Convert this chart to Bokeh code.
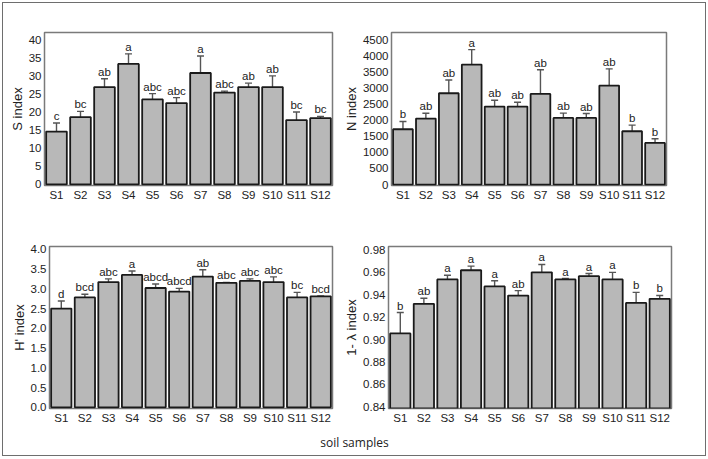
from bokeh.plotting import figure
from bokeh.models import (ColumnDataSource, Range1d, FactorRange, FixedTicker,
                          Whisker, TeeHead, Label, CustomJSTickFormatter)
from bokeh.layouts import column, row
from bokeh.core.properties import value
from bokeh.embed import file_html
from bokeh.resources import INLINE

samples = ["S1", "S2", "S3", "S4", "S5", "S6", "S7", "S8", "S9", "S10", "S11", "S12"]

s_mean = [14.6, 18.6, 26.9, 33.3, 23.5, 22.5, 30.8, 25.4, 26.9, 26.9, 17.8, 18.3]
s_err = [2.4, 1.6, 2.3, 2.8, 1.6, 1.5, 4.7, 0.4, 1.1, 3.1, 2.2, 0.5]
s_letters = ["c", "bc", "ab", "a", "abc", "abc", "a", "abc", "ab", "ab", "bc", "bc"]

n_mean = [1717, 2048, 2834, 3723, 2420, 2420, 2813, 2068, 2068, 3071, 1655, 1293]
n_err = [240, 165, 410, 465, 195, 135, 750, 150, 135, 520, 190, 130]
n_letters = ["b", "ab", "ab", "a", "ab", "ab", "ab", "ab", "ab", "ab", "b", "b"]

h_mean = [2.50, 2.78, 3.17, 3.35, 3.02, 2.93, 3.31, 3.15, 3.20, 3.17, 2.78, 2.81]
h_err = [0.19, 0.08, 0.08, 0.10, 0.10, 0.08, 0.17, 0.01, 0.05, 0.13, 0.13, 0.01]
h_letters = ["d", "bcd", "abc", "a", "abcd", "abcd", "ab", "abc", "abc", "abc", "bc", "bcd"]

d_mean = [0.9055, 0.9319, 0.9536, 0.9618, 0.9474, 0.9392, 0.9600, 0.9536, 0.9565, 0.9536, 0.9327, 0.9363]
d_err = [0.0186, 0.0050, 0.0037, 0.0037, 0.0050, 0.0044, 0.0070, 0.0008, 0.0024, 0.0063, 0.0094, 0.0030]
d_letters = ["b", "ab", "a", "a", "a", "ab", "a", "a", "a", "a", "b", "b"]

s_ticks = [0, 5, 10, 15, 20, 25, 30, 35, 40]
n_ticks = [0, 500, 1000, 1500, 2000, 2500, 3000, 3500, 4000, 4500]
h_ticks = [0.0, 0.5, 1.0, 1.5, 2.0, 2.5, 3.0, 3.5, 4.0]
d_ticks = [0.84, 0.86, 0.88, 0.90, 0.92, 0.94, 0.96, 0.98]

FONT = "Liberation Sans"


def panel(means, errs, letters, yr, ticks, decimals, ylabel, w, h, bl, br, bt, bb):
    p = figure(x_range=FactorRange(*samples, range_padding=0), y_range=Range1d(*yr),
               width=w, height=h, output_backend="svg", toolbar_location=None,
               min_border_left=bl, min_border_right=br, min_border_top=bt,
               min_border_bottom=bb)
    up = [m + e for m, e in zip(means, errs)]
    lo = [m - e for m, e in zip(means, errs)]
    src = ColumnDataSource(dict(x=samples, top=means, upper=up, lower=lo, lab=letters))
    p.vbar(x="x", top="top", bottom=0, width=0.86, source=src,
           fill_color="#b8b8b8", line_color="#1a1a1a", line_width=1.8)
    wk = Whisker(base="x", upper="upper", lower="lower", source=src,
                 line_color="#555555", line_width=1.4,
                 upper_head=TeeHead(size=7, line_color="#555555", line_width=1.4),
                 lower_head=TeeHead(size=7, line_color="#555555", line_width=1.4))
    p.add_layout(wk)
    p.text(x="x", y="upper", text="lab", source=src, text_align="center",
           text_baseline="bottom", y_offset=-1, text_font_size="11.5px",
           text_font=value(FONT), text_color="#222222")
    p.xgrid.visible = False
    p.ygrid.visible = False
    p.outline_line_color = "#7a7a7a"
    p.outline_line_width = 1.5
    for ax in (p.xaxis[0], p.yaxis[0]):
        ax.axis_line_color = None
        ax.major_tick_line_color = None
        ax.minor_tick_line_color = None
        ax.major_tick_out = 0
        ax.major_tick_in = 0
        ax.minor_tick_out = 0
        ax.minor_tick_in = 0
        ax.major_label_text_font = FONT
        ax.major_label_text_font_size = "11.5px"
        ax.major_label_text_color = "#222222"
    p.xaxis.major_label_standoff = 3
    p.yaxis.major_label_standoff = 3
    p.yaxis.ticker = FixedTicker(ticks=ticks)
    p.yaxis.formatter = CustomJSTickFormatter(code="return tick.toFixed(%d);" % decimals)
    p.yaxis.axis_label = ylabel
    p.yaxis.axis_label_text_font = FONT
    p.yaxis.axis_label_text_font_style = "normal"
    p.yaxis.axis_label_text_font_size = "13px"
    p.yaxis.axis_label_text_color = "#222222"
    p.yaxis.axis_label_standoff = 1
    return p


p1 = panel(s_mean, s_err, s_letters, (-0.3, 42.0), s_ticks, 0, "S index",
           337, 212, 41, 8, 28, 29)
p2 = panel(n_mean, n_err, n_letters, (-30, 4720), n_ticks, 0, "N index",
           365, 212, 48, 39, 29, 30)
p3 = panel(h_mean, h_err, h_letters, (-0.03, 4.07), h_ticks, 1, "H' index",
           337, 213, 46, 8, 29, 20)
p4 = panel(d_mean, d_err, d_letters, (0.8385, 0.983), d_ticks, 2, "1- λ index",
           365, 213, 48, 34, 31, 18)

foot = figure(width=702, height=27, x_range=Range1d(0, 1), y_range=Range1d(0, 1),
              output_backend="svg", toolbar_location=None,
              min_border_left=0, min_border_right=0, min_border_top=0, min_border_bottom=0)
foot.axis.visible = False
foot.xgrid.visible = False
foot.ygrid.visible = False
foot.outline_line_color = None
foot.add_layout(Label(x=0.5, y=0.5, text="soil samples", text_align="center",
                      text_baseline="middle", text_font="Open Sans",
                      text_font_size="12px", text_color="#222222"))

layout = column(row(p1, p2), row(p3, p4), foot,
                styles={"border": "1px solid #6e6e6e", "width": "704px",
                        "height": "454px", "box-sizing": "border-box",
                        "margin-left": "2px", "margin-top": "2px"})

open("out.html", "w").write(file_html(layout, INLINE))
